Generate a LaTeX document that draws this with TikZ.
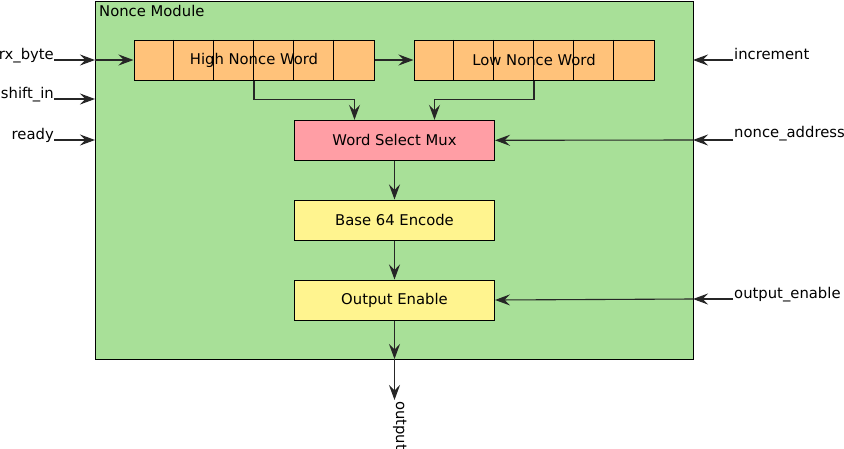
\documentclass[tikz,border=0pt]{standalone}
\usepackage{fontspec}
\setmainfont{DejaVu Sans}
\usetikzlibrary{arrows.meta}
\definecolor{modgreen}{RGB}{168,224,152}
\definecolor{regorange}{RGB}{255,194,122}
\definecolor{muxpink}{RGB}{255,158,165}
\definecolor{blkyellow}{RGB}{255,244,143}

\begin{document}
\begin{tikzpicture}[x=1pt,y=-1pt,>={Stealth[length=15pt,width=11pt,inset=5.5pt]}]
 \tikzstyle{lbl} = [inner sep=0,font=\fontsize{14.8}{18}\selectfont]
 \tikzstyle{block} = [lbl,draw=black,line width=1pt,minimum width=200pt,minimum height=40pt]
 \tikzstyle{reg} = [block,fill=regorange,minimum width=240pt]
 \tikzstyle{wire} = [->,draw=black!85,line width=1.1pt]

  \useasboundingbox (0,0) rectangle (844,448);

  % Module
  \node[draw=black,line width=1pt,fill=modgreen,minimum width=598pt,minimum height=358.5pt,
        inner sep=0,anchor=north west] (mod) at (95,0.5) {};
  \node[lbl,anchor=base west] (modlbl) at (99,16) {Nonce Module};

  % Registers
  \node[reg] (hi) at (254,60) {High Nonce Word};
  \node[reg] (lo) at (534,60) {Low Nonce Word};
  \foreach \i in {1,...,5} {
    \draw[line width=1pt] ([xshift=40*\i pt]hi.north west) -- ([xshift=40*\i pt]hi.south west);
    \draw[line width=1pt] ([xshift=40*\i pt]lo.north west) -- ([xshift=40*\i pt]lo.south west);
  }

  % Blocks
  \node[block,fill=muxpink] (mux) at (394.5,140.3) {Word Select Mux};
  \node[block,fill=blkyellow] (enc) at (394.5,220) {Base 64 Encode};
  \node[block,fill=blkyellow] (oen) at (394.5,300) {Output Enable};

  % Ports
  \coordinate (rxin) at (54,60);    \coordinate (rxedge) at (95,60);
  \coordinate (shin) at (54,99);    \coordinate (shedge) at (95,99);
  \coordinate (rdin) at (54,140);   \coordinate (rdedge) at (95,140);
  \coordinate (incin) at (733,60);  \coordinate (incedge) at (693,60);
  \coordinate (nain) at (733,140);  \coordinate (naedge) at (693,140);
  \coordinate (oein) at (733,299);  \coordinate (oeedge) at (693,299);
  \coordinate (outedge) at (394.5,359);
  \coordinate (outend) at (394.5,400);

  \node[lbl,anchor=base east] (rxlbl) at ([yshift=1pt]rxin) {rx\_byte};
  \node[lbl,anchor=base east] (shlbl) at ([yshift=1pt]shin) {shift\_in};
  \node[lbl,anchor=base east] (rdlbl) at ([yshift=1pt]rdin) {ready};
  \node[lbl,anchor=base west] (inclbl) at ([yshift=1pt,xshift=1pt]incin) {increment};
  \node[lbl,anchor=base west] (nalbl) at ([yshift=3pt,xshift=1pt]nain) {nonce\_address};
  \node[lbl,anchor=base west] (oelbl) at ([yshift=1pt,xshift=1pt]oein) {output\_enable};
  \node[lbl,rotate=-90,anchor=base west] (outlbl) at ([xshift=1.5pt,yshift=-1pt]outend) {output};

  % Wires
  \draw[wire] (rxin) -- (rxedge);
  \draw[wire] (rxedge) -- (hi.west);
  \draw[wire] (shin) -- (shedge);
  \draw[wire] (rdin) -- (rdedge);
  \draw[wire] (hi.east) -- (lo.west);
  \draw[wire] (incin) -- (incedge);
  \draw[wire] (nain) -- (naedge);
  \draw[wire] (naedge) -- (mux.east);
  \draw[wire] (oein) -- (oeedge);
  \draw[wire] (oeedge) -- (oen.east);
  \draw[wire] (hi.south) -- ++(0,19) -| ([xshift=-40pt]mux.north);
  \draw[wire] (lo.south) -- ++(0,19) -| ([xshift=40pt]mux.north);
  \draw[wire] (mux.south) -- (enc.north);
  \draw[wire] (enc.south) -- (oen.north);
  \draw[wire] (oen.south) -- (outedge);
  \draw[wire] (outedge) -- (outend);

\end{tikzpicture}
\end{document}
